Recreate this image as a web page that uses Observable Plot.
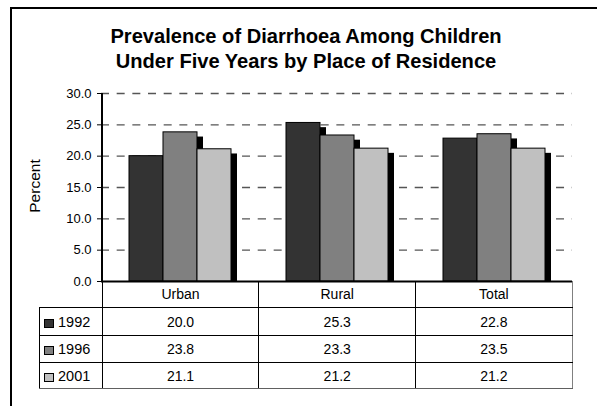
<!DOCTYPE html>
<html>
<head>
<meta charset="utf-8">
<script src="https://cdn.jsdelivr.net/npm/d3@7"></script>
<script src="https://cdn.jsdelivr.net/npm/@observablehq/plot@0.6"></script>
<style>
  html, body { margin: 0; padding: 0; background: #fff; }
  #wrap { position: relative; width: 597px; height: 406px; overflow: hidden; font-family: "Liberation Sans", Arial, sans-serif; color: #000; }
  #frame { position: absolute; left: 10px; top: 7px; width: 700px; height: 500px; border-top: 2px solid #000; border-left: 2px solid #000; }
  #title { position: absolute; left: 10px; top: 23.5px; width: 592px; text-align: center; font-weight: bold; font-size: 20.1px; line-height: 25px; }
  #ylabel { position: absolute; left: -15px; top: 178px; width: 100px; height: 16px; line-height: 16px; text-align: center; font-size: 15.5px; transform: rotate(-90deg); transform-origin: 50% 50%; }
  #chart { position: absolute; left: 0; top: 80px; }
  #axisline { position: absolute; left: 101px; top: 92.5px; width: 1.5px; height: 189px; background: #000; }
  #tbl { position: absolute; left: 39px; top: 281px; border-collapse: collapse; table-layout: fixed; font-size: 14px; }
  #tbl td { border: 1px solid #000; padding: 0; text-align: center; vertical-align: middle; white-space: nowrap; }
  #tbl tr.head td { border-top: none; }
  #tbl tr.head td.corner { border-left: none; }
  #tbl td.last { border-right: 1.5px solid #808080; }
  #tbl tr:last-child td { border-bottom: 1.5px solid #606060; }
  #tbl td.lab { text-align: left; padding-left: 4px; font-size: 14.5px; }
  .sw { display: inline-block; width: 10px; height: 9px; box-sizing: border-box; border: 1px solid #000; margin-right: 4px; vertical-align: -1px; }
</style>
</head>
<body>
<div id="wrap">
  <div id="frame"></div>
  <div id="title">Prevalence of Diarrhoea Among Children<br>Under Five Years by Place of Residence</div>
  <div id="ylabel">Percent</div>
  <div id="chart"></div>
  <div id="axisline"></div>
  <table id="tbl"></table>
</div>
<script>
const places = ["Urban", "Rural", "Total"];
const years = ["1992", "1996", "2001"];
const v1992 = [20.0, 25.3, 22.8];
const v1996 = [23.8, 23.3, 23.5];
const v2001 = [21.1, 21.2, 21.2];
const yTicks = [0, 5, 10, 15, 20, 25, 30];
const colors = ["#333333", "#808080", "#c0c0c0"];

const series = [v1992, v1996, v2001];
const data = places.flatMap((p, i) => years.map((y, j) => ({place: p, year: y, value: series[j][i]})));

const chart = Plot.plot({
  width: 597,
  height: 210,
  marginLeft: 101,
  marginRight: 25,
  marginTop: 13,
  marginBottom: 9,
  style: {fontFamily: '"Liberation Sans", Arial, sans-serif', fontSize: "13px", color: "#000", background: "transparent", overflow: "visible"},
  fx: {domain: places, padding: 0, axis: null},
  x: {domain: years, paddingInner: 0, paddingOuter: 0.743, axis: null},
  y: {domain: [0, 30], ticks: yTicks, tickFormat: d3.format(".1f"), tickSize: 4, tickPadding: 6, label: null},
  color: {domain: years, range: colors},
  marks: [
    Plot.ruleY(yTicks.filter(t => t > 0), {stroke: "#555", strokeWidth: 1.3, strokeDasharray: "8,7.67"}),
    Plot.barY(data, {fx: "place", x: "year", y1: 0, y2: d => d.value - 0.75, dx: 6, fill: "#000"}),
    Plot.barY(data, {fx: "place", x: "year", y: "value", fill: "year", stroke: "#000", strokeWidth: 1}),
    Plot.ruleY([0], {stroke: "#000", strokeWidth: 2})
  ]
});
document.getElementById("chart").appendChild(chart);

// table
const tbl = document.getElementById("tbl");
const colW = [62.7, 156.7, 156.7, 156.7];
const rowH = [26.7, 28, 27, 26.3];
const cg = document.createElement("colgroup");
colW.forEach(w => { const c = document.createElement("col"); c.style.width = w + "px"; cg.appendChild(c); });
tbl.appendChild(cg);
const head = document.createElement("tr");
head.className = "head";
head.style.height = rowH[0] + "px";
const corner = document.createElement("td");
corner.className = "corner";
head.appendChild(corner);
places.forEach((p, i) => {
  const td = document.createElement("td");
  td.textContent = p;
  if (i === places.length - 1) td.className = "last";
  head.appendChild(td);
});
tbl.appendChild(head);
years.forEach((y, j) => {
  const tr = document.createElement("tr");
  tr.style.height = rowH[j + 1] + "px";
  const lab = document.createElement("td");
  lab.className = "lab";
  const sw = document.createElement("span");
  sw.className = "sw";
  sw.style.background = colors[j];
  lab.appendChild(sw);
  lab.appendChild(document.createTextNode(y));
  tr.appendChild(lab);
  places.forEach((p, i) => {
    const td = document.createElement("td");
    td.textContent = d3.format(".1f")(series[j][i]);
    if (i === places.length - 1) td.className = "last";
    tr.appendChild(td);
  });
  tbl.appendChild(tr);
});
</script>
</body>
</html>
